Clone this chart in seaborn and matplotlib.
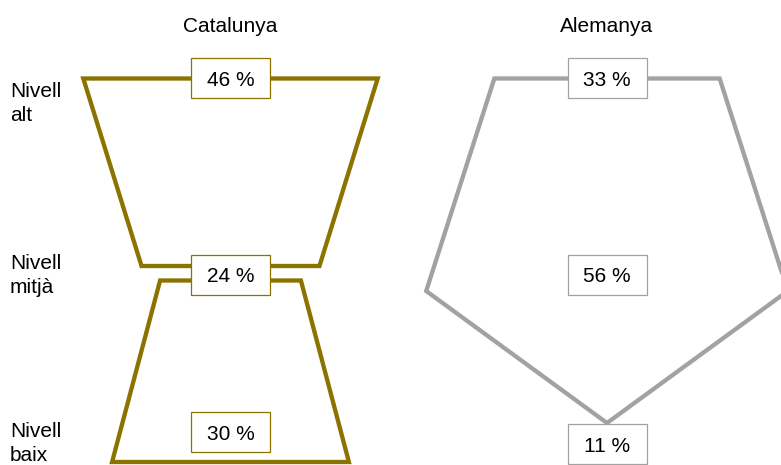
import matplotlib
matplotlib.use("Agg")
import matplotlib.pyplot as plt
import seaborn as sns
import pandas as pd
from matplotlib.patches import Rectangle

# Data
countries = ["Catalunya", "Alemanya"]
levels = ["Nivell\nalt", "Nivell\nmitjà", "Nivell\nbaix"]
catalunya_pct = [46, 24, 30]
alemanya_pct = [33, 56, 11]
# outline widths (in percentage points), top to bottom
catalunya_upper_widths = [46.0, 27.8]
catalunya_lower_widths = [22.0, 37.0]
alemanya_widths = [35.2, 56.5, 0.0]

# Layout (pixel space of the 781x465 canvas)
px_per_pt = 6.4
centers = {"Catalunya": 230.5, "Alemanya": 607}
colors = {"Catalunya": "#8b7300", "Alemanya": "#a2a2a2"}
box_w, box_h = 79, 40

sns.set_theme(style="white")
plt.rcParams['font.family'] = ['Liberation Sans', 'DejaVu Sans']
plt.rcParams['lines.solid_joinstyle'] = 'miter'

fig = plt.figure(figsize=(7.81, 4.65), dpi=100)
ax = fig.add_axes([0, 0, 1, 1])
ax.set_xlim(0, 781)
ax.set_ylim(465, 0)
ax.axis('off')


def outline(center, ys, widths):
    # closed path that starts at the middle of the top edge (hidden under the label)
    right = [(center + w / 2 * px_per_pt, y) for y, w in zip(ys, widths)]
    left = [(center - w / 2 * px_per_pt, y) for y, w in zip(ys, widths) if w > 0]
    pts = [(center, ys[0])] + right + left[::-1] + [(center, ys[0])]
    return pd.DataFrame(pts, columns=['x', 'y'])


shapes = [
    ("Catalunya", [78.5, 266], catalunya_upper_widths),
    ("Catalunya", [280.5, 462], catalunya_lower_widths),
    ("Alemanya", [78.5, 291, 423], alemanya_widths),
]
for country, ys, widths in shapes:
    df = outline(centers[country], ys, widths)
    sns.lineplot(data=df, x='x', y='y', sort=False, estimator=None,
                 color=colors[country], lw=3.1, ax=ax)

# value boxes
box_rows = {"Catalunya": [78.5, 274.5, 432], "Alemanya": [78.5, 274.5, 444]}
values = {"Catalunya": catalunya_pct, "Alemanya": alemanya_pct}
for country in countries:
    cx = centers[country]
    for yc, v in zip(box_rows[country], values[country]):
        ax.add_patch(Rectangle((cx - box_w / 2, yc - box_h / 2), box_w, box_h,
                               facecolor='white', edgecolor=colors[country],
                               lw=0.9, zorder=3))
        ax.text(cx, yc + 7.5, f"{v} %", ha='center', va='baseline',
                fontsize=15, color='black', zorder=4)
    ax.text(cx, 31.5, country, ha='center', va='baseline', fontsize=15, color='black')

# level labels
for lab, yb in zip(levels, [120.5, 293, 461]):
    ax.text(10, yb, lab, ha='left', va='baseline', fontsize=15,
            color='black', linespacing=1.33)

fig.savefig("out.png", dpi=100)
